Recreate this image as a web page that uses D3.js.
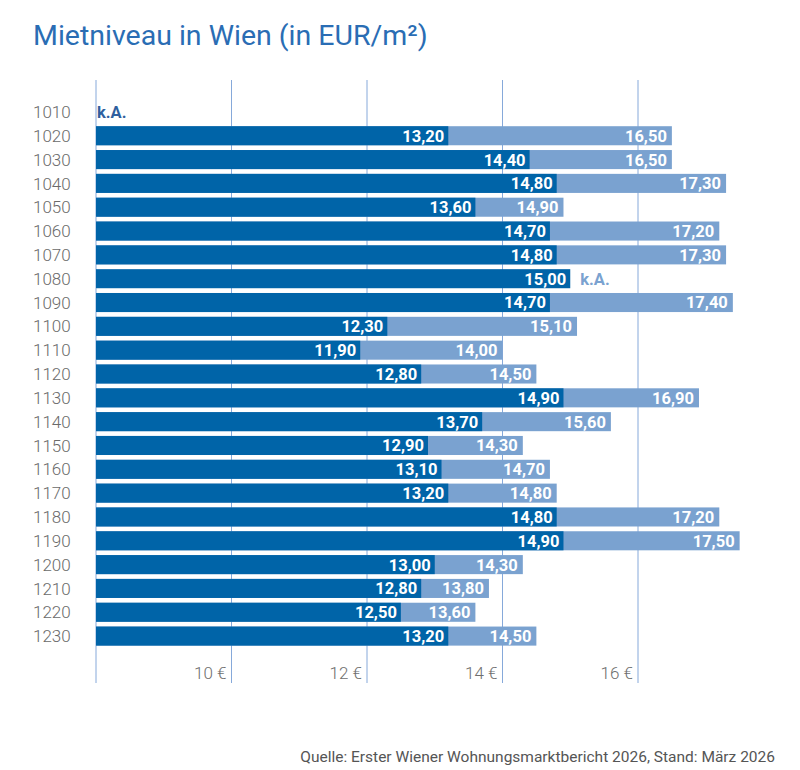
<!DOCTYPE html>
<html>
<head>
<meta charset="utf-8">
<script src="https://cdn.jsdelivr.net/npm/d3@7"></script>
<style>
  body { margin: 0; background: #fff; }
</style>
</head>
<body>
<div id="chart"></div>
<script>
// Data
const districts = ["1010", "1020", "1030", "1040", "1050", "1060", "1070", "1080", "1090", "1100", "1110", "1120",
    "1130", "1140", "1150", "1160", "1170", "1180", "1190", "1200", "1210", "1220", "1230"];
const lowValues = [null, 13.20, 14.40, 14.80, 13.60, 14.70, 14.80, 15.00, 14.70, 12.30, 11.90, 12.80,
    14.90, 13.70, 12.90, 13.10, 13.20, 14.80, 14.90, 13.00, 12.80, 12.50, 13.20];
const highValues = [null, 16.50, 16.50, 17.30, 14.90, 17.20, 17.30, null, 17.40, 15.10, 14.00, 14.50,
    16.90, 15.60, 14.30, 14.70, 14.80, 17.20, 17.50, 14.30, 13.80, 13.60, 14.50];
const tickValues = [10, 12, 14, 16];

const rows = districts.map((d, i) => ({ district: d, low: lowValues[i], high: highValues[i] }));

// Dimensions and layout
const width = 800;
const height = 770;
const dark = "#0064a8";
const light = "#7aa2d0";
const gridColor = "#86a9da";
const font = "Roboto, 'Open Sans', sans-serif";

const fmt = v => v.toFixed(2).replace(".", ",");

const svg = d3.select("#chart")
    .append("svg")
    .attr("width", width)
    .attr("height", height);

// Scales
const x = d3.scaleLinear()
    .domain([8, 16])
    .range([96, 638]);

const y = d3.scaleBand()
    .domain(districts)
    .range([100, 648])
    .paddingInner(0.2)
    .paddingOuter(0.1);

// Title
svg.append("text")
    .attr("x", 33)
    .attr("y", 45)
    .style("font-family", font)
    .style("font-size", "28.5px")
    .style("fill", "#2a6db4")
    .text("Mietniveau in Wien (in EUR/m²)");

// Gridlines (incl. axis line at the left)
svg.append("g")
    .selectAll("line")
    .data([8].concat(tickValues))
    .enter().append("line")
    .attr("x1", d => x(d))
    .attr("x2", d => x(d))
    .attr("y1", 80)
    .attr("y2", 683)
    .style("stroke", gridColor)
    .style("stroke-width", 1);

// Tick labels
svg.append("g")
    .selectAll("text")
    .data(tickValues)
    .enter().append("text")
    .attr("x", d => x(d) - 5)
    .attr("y", 679)
    .attr("text-anchor", "end")
    .style("font-family", font)
    .style("font-weight", 300)
    .style("font-size", "17px")
    .style("fill", "#6e6e6e")
    .text(d => `${d} €`);

// District labels
svg.append("g")
    .selectAll("text")
    .data(rows)
    .enter().append("text")
    .attr("x", 33)
    .attr("y", d => y(d.district) + y.bandwidth() / 2)
    .attr("dy", "0.36em")
    .style("font-family", font)
    .style("font-weight", 300)
    .style("font-size", "17px")
    .style("fill", "#6a6a6a")
    .text(d => d.district);

const row = svg.append("g")
    .selectAll("g")
    .data(rows)
    .enter().append("g")
    .attr("transform", d => `translate(0, ${y(d.district)})`);

// Light bars (upper value)
row.filter(d => d.high != null)
    .append("rect")
    .attr("x", x(8))
    .attr("width", d => x(d.high) - x(8))
    .attr("height", y.bandwidth())
    .style("fill", light);

// Dark bars (lower value)
row.filter(d => d.low != null)
    .append("rect")
    .attr("x", x(8))
    .attr("width", d => x(d.low) - x(8))
    .attr("height", y.bandwidth())
    .style("fill", dark);

// Value labels
row.filter(d => d.high != null)
    .append("text")
    .attr("x", d => x(d.high) - 5)
    .attr("y", y.bandwidth() / 2)
    .attr("dy", "0.36em")
    .attr("text-anchor", "end")
    .style("font-family", font)
    .style("font-weight", 700)
    .style("font-size", "16.5px")
    .style("fill", "#fff")
    .text(d => fmt(d.high));

row.filter(d => d.low != null)
    .append("text")
    .attr("x", d => x(d.low) - 4)
    .attr("y", y.bandwidth() / 2)
    .attr("dy", "0.36em")
    .attr("text-anchor", "end")
    .style("font-family", font)
    .style("font-weight", 700)
    .style("font-size", "16.5px")
    .style("fill", "#fff")
    .text(d => fmt(d.low));

// "k.A." where there is no value
row.filter(d => d.low == null)
    .append("text")
    .attr("x", x(8) + 1)
    .attr("y", y.bandwidth() / 2)
    .attr("dy", "0.36em")
    .style("font-family", font)
    .style("font-weight", 700)
    .style("font-size", "16.5px")
    .style("fill", "#2f5f9e")
    .text("k.A.");

row.filter(d => d.low != null && d.high == null)
    .append("text")
    .attr("x", d => x(d.low) + 10)
    .attr("y", y.bandwidth() / 2)
    .attr("dy", "0.36em")
    .style("font-family", font)
    .style("font-weight", 700)
    .style("font-size", "16.5px")
    .style("fill", light)
    .text("k.A.");

// Source
svg.append("text")
    .attr("x", 775)
    .attr("y", 762)
    .attr("text-anchor", "end")
    .style("font-family", font)
    .style("font-size", "15.5px")
    .style("fill", "#555")
    .text("Quelle: Erster Wiener Wohnungsmarktbericht 2026, Stand: März 2026");
</script>
</body>
</html>
